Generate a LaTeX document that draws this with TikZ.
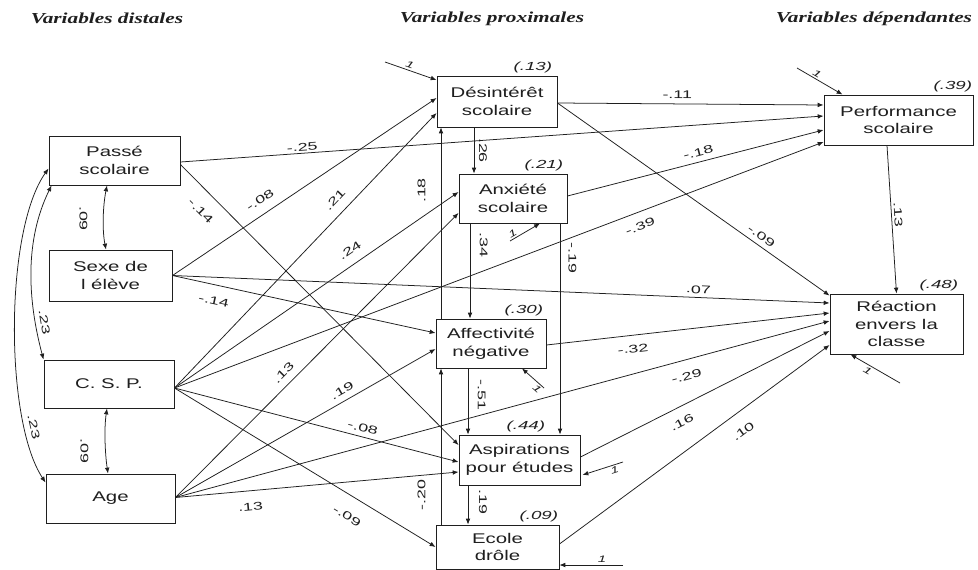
\documentclass[tikz,border=0pt]{standalone}
\usepackage{fontspec}
\usepackage{tikz}
\usetikzlibrary{arrows.meta}
\usetikzlibrary{calc}
\usetikzlibrary{positioning}
\newfontfamily\boxfont[FakeStretch=1.45]{Liberation Sans}
\newfontfamily\coeffont[FakeStretch=1.6]{Liberation Sans}
\newfontfamily\headfont[FakeStretch=1.4]{Liberation Serif}
\newlength\pxu
\setlength\pxu{0.3mm}
\definecolor{ink}{rgb}{0.12,0.12,0.12}

\begin{document}
\begin{tikzpicture}[x=0.3mm, y=-0.3mm,
  ink, line width=0.65pt,
  var/.style={draw, rectangle, inner sep=0pt, align=center, line width=0.8pt,
    font=\boxfont\fontsize{12}{15}\selectfont},
  coef/.style={font=\coeffont\fontsize{9.5}{11}\selectfont, inner sep=1.5pt},
  rsq/.style={font=\coeffont\itshape\fontsize{10}{12}\selectfont, inner sep=0pt},
  one/.style={font=\coeffont\itshape\fontsize{8}{9}\selectfont, inner sep=1.5pt},
  head/.style={font=\headfont\bfseries\itshape\fontsize{13}{15}\selectfont},
  effect/.style={-{Latex[length=5pt,width=4pt]}},
  corr/.style={{Latex[length=5pt,width=4pt]}-{Latex[length=5pt,width=4pt]}}]
  \fill[white] (0,0) rectangle (978,570);
  \useasboundingbox (0,0) rectangle (978,570);

  \node[head] (hdist) at (107,18) {Variables distales};
  \node[head] (hprox) at (492,19) {Variables proximales};
  \node[head] (hdep) at (874,19) {Variables dépendantes};

  % distal variables
  \node[var, minimum width=131\pxu, minimum height=49\pxu] (passe) at (114.5,160.5) {Passé\\scolaire};
  \node[var, minimum width=123\pxu, minimum height=51\pxu] (sexe) at (110.5,275.5) {Sexe de\\l élève};
  \node[var, minimum width=130\pxu, minimum height=48\pxu] (csp) at (109,384) {C. S. P.};
  \node[var, minimum width=129\pxu, minimum height=49\pxu] (age) at (110.5,498.5) {Age};

  % proximal variables
  \node[var, minimum width=120\pxu, minimum height=51\pxu] (desint) at (497,101.5) {Désintérêt\\scolaire};
  \node[var, minimum width=108\pxu, minimum height=49\pxu] (anx) at (513,198.5) {Anxiété\\scolaire};
  \node[var, minimum width=110\pxu, minimum height=49\pxu] (affect) at (491,343.5) {Affectivité\\négative};
  \node[var, minimum width=121\pxu, minimum height=50\pxu] (aspir) at (519.5,460) {Aspirations\\pour études};
  \node[var, minimum width=123\pxu, minimum height=44\pxu] (ecole) at (497.5,547) {Ecole\\drôle};

  % dependent variables
  \node[var, minimum width=149\pxu, minimum height=50\pxu] (perf) at (898.5,120) {Performance\\scolaire};
  \node[var, minimum width=133\pxu, minimum height=60\pxu] (react) at (896.5,324) {Réaction\\envers la\\classe};

  \node[rsq, above left=2\pxu and 5\pxu of desint.north east] (r2desint) {(.13)};
  \node[rsq, above left=2\pxu and 4\pxu of anx.north east] (r2anx) {(.21)};
  \node[rsq, above left=2\pxu and 3\pxu of affect.north east] (r2affect) {(.30)};
  \node[rsq, above left=2\pxu and 35\pxu of aspir.north east] (r2aspir) {(.44)};
  \node[rsq, above left=2\pxu and 1\pxu of ecole.north east] (r2ecole) {(.09)};
  \node[rsq, above left=2\pxu and 1\pxu of perf.north east] (r2perf) {(.39)};
  \node[rsq, above left=2\pxu and 5\pxu of react.north east] (r2react) {(.48)};

  \coordinate (edesint) at (385,62);
  \coordinate (eanx) at (510,241);
  \coordinate (eaffect) at (544,388);
  \coordinate (easpir) at (623,462);
  \coordinate (eecole) at (623,565);
  \coordinate (eperf) at (797,68);
  \coordinate (ereact) at (900,383);

  \draw[effect] ($(passe.east)+(0,1.5)$) -- node[coef, pos=.19, sloped, above] {-.25} ($(perf.west)+(0,-4)$);
  \draw[effect] ($(passe.east)+(0,4)$) -- node[coef, pos=.12, sloped, below, inner sep=12pt] {-.14} ($(aspir.west)+(0,-15)$);
  \draw[effect] (sexe.east) -- node[coef, pos=.36, sloped, above, inner sep=8pt] {-.08} ($(desint.west)+(0,-3.5)$);
  \draw[effect] (sexe.east) -- node[coef, pos=.80, sloped, above, inner sep=3pt] {.07} ($(react.west)+(0,-21)$);
  \draw[effect] (sexe.east) -- node[coef, pos=.17, sloped, below, inner sep=10pt] {-.14} ($(affect.west)+(0,-10.5)$);
  \draw[effect] ($(csp.east)+(0,4)$) -- node[coef, pos=.65, sloped, above, inner sep=8pt] {.21} ($(desint.west)+(0,11.5)$);
  \draw[effect] ($(csp.east)+(0,4)$) -- node[coef, pos=.645, sloped, above, inner sep=8pt] {.24} ($(anx.west)+(0,-6.5)$);
  \draw[effect] ($(csp.east)+(0,4)$) -- node[coef, pos=.71, sloped, below, inner sep=8pt] {-.39} ($(perf.west)+(0,22)$);
  \draw[effect] ($(csp.east)+(0,4)$) -- node[coef, pos=.655, sloped, above, inner sep=4pt] {-.08} ($(aspir.west)+(0,2)$);
  \draw[effect] ($(csp.east)+(0,4)$) -- node[coef, pos=.70, sloped, below, inner sep=13pt] {-.09} (ecole.west);
  \draw[effect] ($(age.east)+(0,-1)$) -- node[coef, pos=.41, sloped, above, inner sep=6pt] {.13} ($(anx.west)+(0,14.5)$);
  \draw[effect] ($(age.east)+(0,-1)$) -- node[coef, pos=.66, sloped, above, inner sep=5pt] {.19} ($(affect.west)+(0,5.5)$);
  \draw[effect] ($(age.east)+(0,-1)$) -- node[coef, pos=.775, sloped, below, inner sep=10pt] {-.29} ($(react.west)+(0,-3)$);
  \draw[effect] ($(age.east)+(0,-1)$) -- node[coef, pos=.26, sloped, below, inner sep=10pt] {.13} ($(aspir.west)+(0,12)$);

  \draw[effect] ($(desint.east)+(0,1.5)$) -- node[coef, pos=.45, sloped, above, inner sep=4pt] {-.11} ($(perf.west)+(0,-15)$);
  \draw[effect] ($(desint.east)+(0,1.5)$) -- node[coef, pos=.73, sloped, above, inner sep=4pt] {-.09} ($(react.north west)+(0,2)$);
  \draw[effect] ($(desint.south)+(-23,0)$) -- node[coef, midway, sloped, above, inner sep=4pt] {.26} ($(anx.north)+(-39,0)$);
  \draw[effect] ($(anx.east)+(0,-2.5)$) -- node[coef, pos=.52, sloped, above, inner sep=4.5pt] {-.18} ($(perf.west)+(0,10)$);
  \draw[effect] ($(anx.south)+(-43,0)$) -- node[coef, pos=.23, sloped, above, inner sep=8pt] {.34} ($(affect.north)+(-21,0)$);
  \draw[effect] ($(anx.south)+(47,0)$) -- node[coef, pos=.165, sloped, above, inner sep=7pt] {-.19} ($(aspir.north)+(40.5,0)$);
  \draw[effect] ($(affect.north)+(-50,0)$) -- node[coef, pos=.67, sloped, above, inner sep=13pt] {.18} ($(desint.south)+(-56,0)$);
  \draw[effect] ($(affect.south)+(-23,0)$) -- node[coef, pos=.4, sloped, above, inner sep=8pt] {-.51} ($(aspir.north)+(-51.5,0)$);
  \draw[effect] ($(affect.east)+(0,1.5)$) -- node[coef, pos=.30, sloped, below, inner sep=8pt] {-.32} ($(react.west)+(0,-11)$);
  \draw[effect] ($(aspir.south)+(-51.5,0)$) -- node[coef, pos=.42, sloped, above, inner sep=9pt] {.19} ($(ecole.north)+(-29.5,0)$);
  \draw[effect] ($(aspir.east)+(0,-3)$) -- node[coef, pos=.38, sloped, below, inner sep=9pt] {.16} ($(react.west)+(0,7)$);
  \draw[effect] ($(ecole.north)+(-56.5,0)$) -- node[coef, pos=.19, sloped, above, inner sep=13pt] {-.20} ($(affect.south)+(-50,0)$);
  \draw[effect] ($(ecole.east)+(0,-3)$) -- node[coef, pos=.64, sloped, below, inner sep=12pt] {.10} ($(react.west)+(0,21)$);
  \draw[effect] ($(perf.south)+(-11.5,0)$) -- node[coef, pos=.47, sloped, above, inner sep=2pt] {.13} (react.north);

  % residuals
  \draw[effect] (edesint) -- node[one, pos=.45, sloped, above] {1} ($(desint.west)+(0,-21.5)$);
  \draw[effect] (eanx) -- node[one, pos=.18, sloped, above] {1} ($(anx.south)+(27,0)$);
  \draw[effect] (eaffect) -- node[one, pos=.15, sloped, below] {1} ($(affect.south)+(31,0)$);
  \draw[effect] (easpir) -- node[one, pos=.25, sloped, below] {1} ($(aspir.east)+(2,15)$);
  \draw[effect] (eecole) -- node[one, pos=.33, above] {1} ($(ecole.east)+(0,18)$);
  \draw[effect] (eperf) -- node[one, pos=.38, sloped, above] {1} ($(perf.north)+(-56,0)$);
  \draw[effect] (ereact) -- node[one, pos=.6, sloped, below] {1} ($(react.south)+(-46,0)$);

  % correlations
  \draw[corr] ($(passe.south)+(-7.5,0)$) .. controls +(-4,20) and +(-4,-20) .. coordinate[midway] (cpasse) ($(sexe.north)+(-4.5,0)$);
  \draw[corr] ($(csp.south)+(-2,0)$) .. controls +(-3,20) and +(-3,-20) .. coordinate[pos=.6] (ccsp) ($(age.north)+(-2.5,0)$);
  \draw[corr] ($(passe.south west)+(3,0)$) .. controls +(-27,55) and +(-16,-60) .. node[coef, pos=.8, sloped, above, inner sep=4pt] {.23} ($(csp.north west)+(0,0)$);
  \draw[corr] ($(passe.west)+(0,8)$) .. controls +(-44,62) and +(-41,-62) .. node[coef, pos=.79, sloped, above, inner sep=4pt] {.23} ($(age.west)+(0,-16)$);
  \node[coef, rotate=-90] (lpasse) at ($(cpasse)+(-20,1)$) {.09};
  \node[coef, rotate=-90] (lcsp) at ($(ccsp)+(-21,3)$) {.09};
\end{tikzpicture}
\end{document}
